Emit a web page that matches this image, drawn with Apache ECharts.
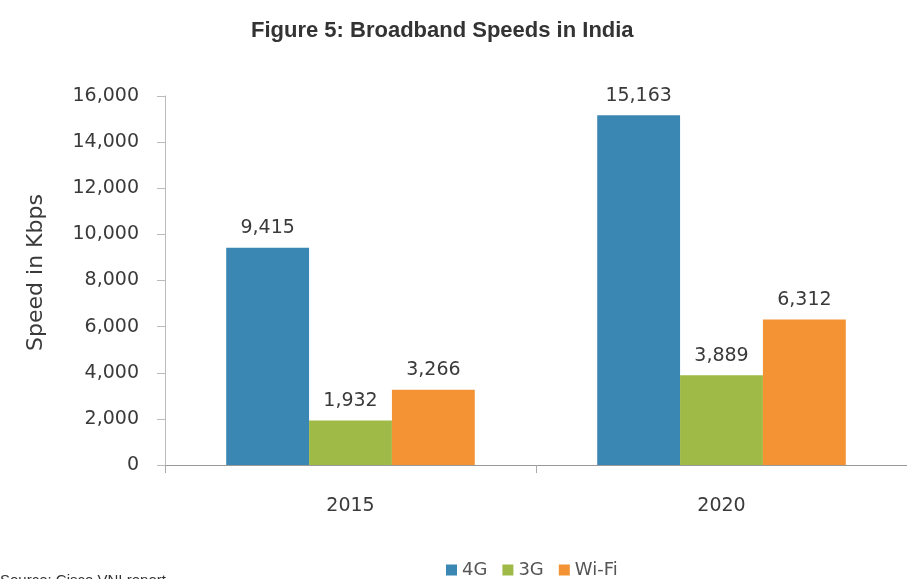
<!DOCTYPE html>
<html>
<head>
<meta charset="utf-8">
<script src="https://cdn.jsdelivr.net/npm/echarts@6/dist/echarts.min.js"></script>
<style>
  html, body { margin: 0; padding: 0; background: #fff; }
  #chart { width: 907px; height: 579px; }
</style>
</head>
<body>
<div id="chart"></div>
<script>
const years = ['2015', '2020'];
const seriesNames = ['4G', '3G', 'Wi-Fi'];
const speed4G = [9415, 15163];
const speed3G = [1932, 3889];
const speedWiFi = [3266, 6312];
const colors = ['#3b87b4', '#9fba46', '#f39334'];

const chart = echarts.init(document.getElementById('chart'));
const fontAxis = '"DejaVu Sans", "Open Sans", sans-serif';

function bar(name, data, color) {
  return {
    name: name,
    type: 'bar',
    data: data,
    barGap: '0%',
    barCategoryGap: '33%',
    itemStyle: { color: color },
    label: {
      show: true,
      position: 'top',
      distance: 10,
      color: '#3a3a3a',
      fontFamily: fontAxis,
      fontSize: 19,
      formatter: p => p.value.toLocaleString('en-US')
    }
  };
}

chart.setOption({
  animation: false,
  title: {
    text: 'Figure 5: Broadband Speeds in India',
    left: 246,
    top: 15,
    textStyle: {
      fontFamily: 'Liberation Sans, Arial, sans-serif',
      fontWeight: 'bold',
      fontSize: 22,
      color: '#333'
    }
  },
  legend: {
    data: seriesNames,
    left: 441,
    top: 556,
    itemWidth: 11,
    itemHeight: 11,
    itemGap: 15,
    icon: 'rect',
    textStyle: { fontFamily: fontAxis, fontSize: 18, color: '#555' }
  },
  grid: { left: 165, right: -5, top: 96, bottom: 114 },
  xAxis: {
    type: 'category',
    data: years,
    axisLine: { lineStyle: { color: '#999' } },
    axisTick: { show: true, length: 8, lineStyle: { color: '#aaa' } },
    axisLabel: { margin: 32, fontFamily: fontAxis, fontSize: 19, color: '#3a3a3a' }
  },
  yAxis: {
    type: 'value',
    min: 0,
    max: 16000,
    interval: 2000,
    name: 'Speed in Kbps',
    nameLocation: 'middle',
    nameGap: 118,
    nameTextStyle: { fontFamily: fontAxis, fontSize: 22, color: '#3a3a3a', padding: [0, 0, 0, 16] },
    axisLine: { show: true, lineStyle: { color: '#bbb' } },
    axisTick: { show: true, length: 8, lineStyle: { color: '#bbb' } },
    splitLine: { show: false },
    axisLabel: {
      margin: 26,
      fontFamily: fontAxis,
      fontSize: 19,
      color: '#3a3a3a',
      formatter: v => v.toLocaleString('en-US')
    }
  },
  graphic: [{
    type: 'text',
    left: 0,
    top: 573,
    style: {
      text: 'Source: Cisco VNI report',
      fontFamily: 'Liberation Sans, Arial, sans-serif',
      fontSize: 15,
      fill: '#333'
    }
  }],
  series: [
    bar('4G', speed4G, colors[0]),
    bar('3G', speed3G, colors[1]),
    bar('Wi-Fi', speedWiFi, colors[2])
  ]
});
</script>
</body>
</html>
